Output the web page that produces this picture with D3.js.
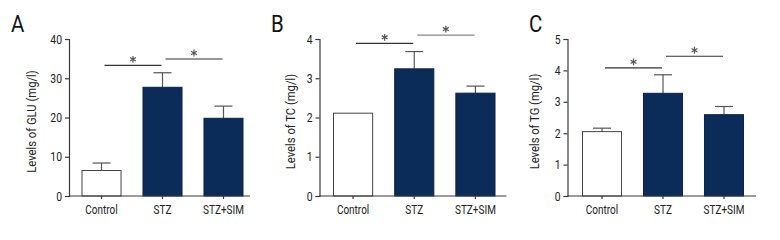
<!DOCTYPE html>
<html>
<head>
<meta charset="utf-8">
<script src="https://cdn.jsdelivr.net/npm/d3@7/dist/d3.min.js"></script>
<style>
  html, body { margin: 0; padding: 0; background: #fff; }
  svg { display: block; font-family: Roboto, "Liberation Sans", sans-serif; }
</style>
</head>
<body>
<svg id="chart" width="780" height="240"></svg>
<script>
// Groupes et valeurs
const categories = ['Control', 'STZ', 'STZ+SIM'];

const gluMeans = [6.5, 27.7, 19.8];
const gluErrors = [1.9, 3.7, 3.1];
const tcMeans = [2.11, 3.24, 2.62];
const tcErrors = [0, 0.44, 0.18];
const tgMeans = [2.05, 3.27, 2.59];
const tgErrors = [0.11, 0.59, 0.26];

const gluTicks = [0, 10, 20, 30, 40];
const tcTicks = [0, 1, 2, 3, 4];
const tgTicks = [0, 1, 2, 3, 4, 5];

// significativité : [groupe a, groupe b, hauteur]
const gluSig = [[0, 1, 33.3], [1, 2, 34.9]];
const tcSig = [[0, 1, 3.89], [1, 2, 4.1]];
const tgSig = [[0, 1, 4.08], [1, 2, 4.45]];

const panels = [
    { letter: 'A', label: 'Levels of GLU (mg/l)', means: gluMeans, errors: gluErrors, ticks: gluTicks, sig: gluSig,
      x0: 69, x1: 250, padL: 13, padR: 7, letterX: 11, labelX: 32 },
    { letter: 'B', label: 'Levels of TC (mg/l)', means: tcMeans, errors: tcErrors, ticks: tcTicks, sig: tcSig,
      x0: 319.5, x1: 506.5, padL: 14, padR: 11.5, letterX: 271, labelX: 291, greySecond: true },
    { letter: 'C', label: 'Levels of TG (mg/l)', means: tgMeans, errors: tgErrors, ticks: tgTicks, sig: tgSig,
      x0: 567.5, x1: 756, padL: 15, padR: 12.5, letterX: 529, labelX: 535 }
];

const yTop = 39;
const yBottom = 196;
const navy = '#0b2c58';
const axisColor = '#3a3a3a';
const squeeze = 0.8;   // police étroite simulée

const svg = d3.select('#chart');

panels.forEach(p => {
    const g = svg.append('g');

    const x = d3.scaleBand()
        .domain(categories)
        .range([p.x0 + p.padL, p.x1 - p.padR])
        .paddingInner(0.36)
        .paddingOuter(0);

    const y = d3.scaleLinear()
        .domain([0, d3.max(p.ticks)])
        .range([yBottom, yTop]);

    // Barres d'erreur (derrière les barres)
    const capW = 18;
    categories.forEach((c, i) => {
        if (!p.errors[i]) return;
        const cx = x(c) + x.bandwidth() / 2;
        g.append('line')
            .attr('x1', cx).attr('x2', cx)
            .attr('y1', y(p.means[i])).attr('y2', y(p.means[i] + p.errors[i]))
            .attr('stroke', '#555').attr('stroke-width', 1.2);
        g.append('line')
            .attr('x1', cx - capW / 2).attr('x2', cx + capW / 2)
            .attr('y1', y(p.means[i] + p.errors[i])).attr('y2', y(p.means[i] + p.errors[i]))
            .attr('stroke', '#555').attr('stroke-width', 1.2);
    });

    // Barres
    g.selectAll('.bar')
        .data(categories)
        .enter()
        .append('rect')
        .attr('class', 'bar')
        .attr('x', c => x(c))
        .attr('width', x.bandwidth())
        .attr('y', (c, i) => y(p.means[i]))
        .attr('height', (c, i) => yBottom - y(p.means[i]))
        .attr('fill', (c, i) => i === 0 ? '#fff' : navy)
        .attr('stroke', (c, i) => i === 0 ? '#444' : '#0a2347')
        .attr('stroke-width', 1);

    // Axe Y
    const yAxis = g.append('g')
        .attr('transform', `translate(${p.x0},0)`)
        .call(d3.axisLeft(y).tickValues(p.ticks).tickSize(4).tickPadding(7 / squeeze - 4).tickFormat(d3.format('d')));
    yAxis.attr('font-family', null);
    yAxis.select('.domain').attr('stroke', axisColor).attr('stroke-width', 1.2);
    yAxis.selectAll('.tick line').attr('stroke', axisColor).attr('stroke-width', 1.2);
    yAxis.selectAll('text')
        .attr('fill', '#222')
        .attr('transform', `scale(${squeeze},1)`)
        .style('font-size', '13px');

    // Axe X
    const xAxis = g.append('g')
        .attr('transform', `translate(0,${yBottom})`);
    xAxis.append('line')
        .attr('x1', p.x0).attr('x2', p.x1)
        .attr('stroke', axisColor).attr('stroke-width', 1.2);
    const xa = d3.axisBottom(x).tickSize(3).tickPadding(6).tickSizeOuter(0);
    const xg = xAxis.append('g').call(xa);
    xg.attr('font-family', null);
    xg.select('.domain').remove();
    xg.selectAll('.tick line').attr('stroke', axisColor).attr('stroke-width', 1.2);
    xg.selectAll('text')
        .attr('fill', '#222')
        .attr('transform', `scale(${squeeze},1)`)
        .style('font-size', '12.5px');

    // Titre de l'axe Y
    g.append('text')
        .attr('transform', `translate(${p.labelX},${(yTop + yBottom) / 2 + 4}) rotate(-90) scale(${squeeze + 0.1},1)`)
        .attr('text-anchor', 'middle')
        .attr('dy', '0.35em')
        .style('font-size', '12.5px')
        .attr('fill', '#222')
        .text(p.label);

    // Lettre du panneau
    g.append('text')
        .attr('transform', `translate(${p.letterX},32) scale(0.85,1)`)
        .style('font-size', '24px')
        .attr('fill', '#111')
        .text(p.letter);

    // Lignes de significativité
    p.sig.forEach((s, k) => {
        const xa1 = x(categories[s[0]]) + x.bandwidth() / 2 + 3;
        const xb1 = x(categories[s[1]]) + x.bandwidth() / 2 - 1;
        const ly = y(s[2]);
        const col = (p.greySecond && k === 1) ? '#888' : '#333';
        g.append('line')
            .attr('x1', xa1).attr('x2', xb1)
            .attr('y1', ly).attr('y2', ly)
            .attr('stroke', col).attr('stroke-width', 1.2);
        g.append('path')
            .attr('transform', `translate(${(xa1 + xb1) / 2},${ly - 6})`)
            .attr('d', d3.symbol().type(d3.symbolAsterisk).size(32)())
            .attr('fill', 'none')
            .attr('stroke', '#555')
            .attr('stroke-width', 1.2);
    });
});
</script>
</body>
</html>
